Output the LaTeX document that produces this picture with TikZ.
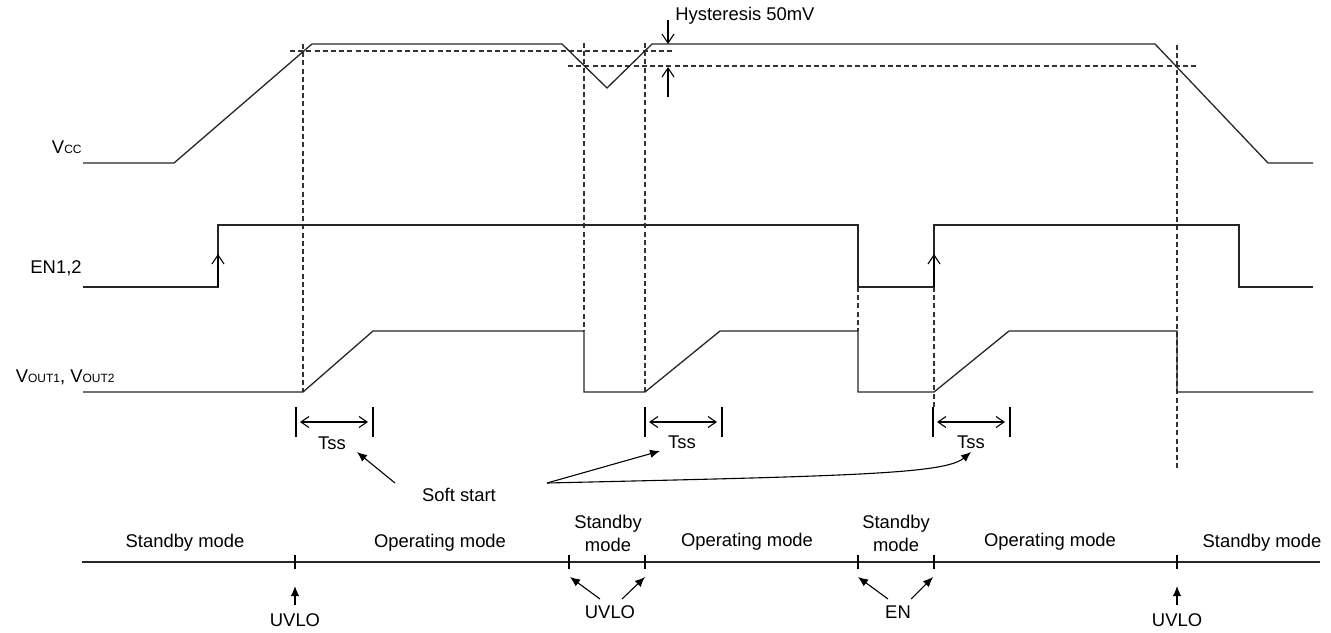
\documentclass[tikz,border=0pt]{standalone}
\usepackage{fontspec}
\setmainfont{Liberation Sans}
\usepackage{xcolor}
\colorlet{colorWave}{black!85}
\colorlet{colorGuide}{black!80}
\usepackage{tikz}
\usetikzlibrary{arrows.meta}
\tikzset{
  wave/.style={colorWave, line width=0.65pt, line join=miter},
  guide/.style={colorGuide, line width=0.6pt, dash pattern=on 2.5pt off 1.6pt},
  barb/.style={line width=0.55pt, -{Straight Barb[length=4.5pt,width=6pt]}},
  dimarrow/.style={line width=0.55pt, {Straight Barb[length=4pt,width=5.5pt]}-{Straight Barb[length=4pt,width=5.5pt]}},
  pointer/.style={line width=0.55pt, -{Latex[length=5pt,width=4.2pt]}},
  lbl/.style={inner sep=0pt, font=\fontsize{9.2}{11.5}\selectfont},
  modelbl/.style={lbl, align=center},
}
\newcommand{\lowcap}[1]{{\fontsize{6}{7}\selectfont #1}}

\begin{document}
\begin{tikzpicture}[x=0.5pt, y=-0.5pt]
\useasboundingbox (0,0) rectangle (1331,632);
% signal names
\node[lbl, anchor=base east] (lVcc) at (82,153) {V\lowcap{CC}};
\node[lbl, anchor=base east] (lEN) at (82,273) {EN1,2};
\node[lbl, anchor=base east] (lVout) at (115,382) {V\lowcap{OUT1}, V\lowcap{OUT2}};
% thresholds and markers
\draw[guide] (290,51) -- (675,51);
\draw[guide] (568,66) -- (1199,66);
\draw[guide] (303,44) -- (303,392);
\draw[guide] (584,43) -- (584,331);
\draw[guide] (645,43) -- (645,392);
\draw[guide] (858,287) -- (858,331);
\draw[guide] (934,287) -- (934,407);
\draw[guide] (1177,45) -- (1177,470);
% waveforms
\draw[wave] (83,163) -- (174,163) -- (312,44) -- (562,44) -- (607,88) -- (652,44) -- (1155,44) -- (1268,163) -- (1313,163);
\draw[wave] (83,287) -- (218,287) -- (218,225) -- (858,225) -- (858,287) -- (934,287) -- (934,225) -- (1239,225) -- (1239,287) -- (1313,287);
\draw[wave] (83,392) -- (303,392) -- (373,331) -- (584,331) -- (584,392) -- (645,392) -- (720,331) -- (858,331) -- (858,392) -- (934,392) -- (1009,331) -- (1177,331) -- (1177,392) -- (1313,392);
\draw[barb] (218,287) -- (218,254);
\draw[barb] (934,287) -- (934,254);
% hysteresis
\node[lbl, anchor=west] (hyst) at (675,16) {Hysteresis 50mV};
\coordinate (hTop) at (668,20);
\coordinate (hTopTip) at (668,44);
\coordinate (hBot) at (668,97);
\coordinate (hBotTip) at (668,67);
\draw[barb] (hTop) -- (hTopTip);
\draw[barb] (hBot) -- (hBotTip);
% soft start intervals
\foreach \xa/\xb/\n in {296/373/1, 645/722/2, 933/1010/3} {
  \draw[line width=0.55pt] (\xa,407) -- (\xa,437);
  \draw[line width=0.55pt] (\xb,407) -- (\xb,437);
  \draw[dimarrow] (\xa+4,422) -- (\xb-5,422);
}
\node[lbl] (tss1) at (332,443) {Tss};
\node[lbl] (tss2) at (682,442) {Tss};
\node[lbl] (tss3) at (971,442) {Tss};
\node[lbl] (soft) at (459,495) {Soft start};
\coordinate (softL) at (395,483);
\coordinate (softR) at (547,483);
\draw[pointer] (softL) -- (357,452);
\draw[pointer] (softR) -- (660,451);
\draw[pointer] (softR) .. controls (850,476) and (945,474) .. (971,452);
% mode line
\draw[wave] (82,562) -- (1320,562);
\foreach \x in {295,569,645,858,934,1177}
  \draw[line width=0.55pt] (\x,555) -- (\x,569);
\node[modelbl] (sb1) at (185,543) {Standby mode};
\node[modelbl] (op1) at (440,543) {Operating mode};
\node[modelbl] (sb2) at (608,533) {Standby\\mode};
\node[modelbl] (op2) at (747,542) {Operating mode};
\node[modelbl] (sb3) at (896,533) {Standby\\mode};
\node[modelbl] (op3) at (1050,542) {Operating mode};
\node[modelbl] (sb4) at (1262,543) {Standby mode};
% events
\node[lbl] (uvlo1) at (295,620) {UVLO};
\node[lbl] (uvlo2) at (610,612) {UVLO};
\node[lbl] (en) at (898,612) {EN};
\node[lbl] (uvlo3) at (1177,620) {UVLO};
\draw[pointer] (uvlo1.north) ++(0,-8) -- (295,586);
\draw[pointer] (uvlo3.north) ++(0,-8) -- (1177,586);
\draw[pointer] (600,599) -- (570,577);
\draw[pointer] (622,599) -- (645,577);
\draw[pointer] (888,599) -- (858,577);
\draw[pointer] (911,599) -- (933,577);
\end{tikzpicture}
\end{document}
